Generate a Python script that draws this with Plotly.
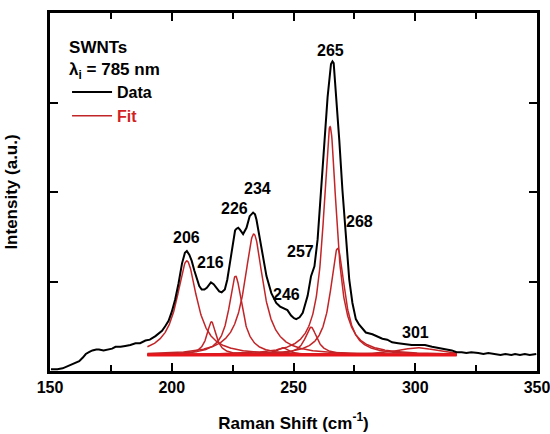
import plotly.graph_objects as go
import numpy as np

# ---- measured spectrum (Raman shift, intensity a.u.) ----
raman_x = [150.4, 153, 155.2, 157, 158.6, 160.5, 162, 163.5, 164.7, 166, 167.4, 169, 170.1, 172, 174.2,
           175.5, 176.9, 179, 180.9, 183, 185.1, 187, 189.2, 191, 193.3, 194.8, 196, 197.3, 198.7, 200,
           201.4, 202.8, 204.2, 205.4, 206.2, 207.2, 208.2, 209.3, 210.3, 211.3, 212.3, 213.4, 214.4,
           215.3, 216.1, 217.2, 218.4, 219.5, 220.5, 221.8, 222.8, 223.9, 225.2, 226.0, 226.6, 227.3,
           228, 229.3, 230.7, 232, 233.4, 234.2, 234.8, 236.1, 237.5, 238.9, 240.9, 242.9, 244.5, 246,
           247.5, 249, 250.2, 251.1, 252.5, 253.8, 255, 255.8, 257.2, 258.6, 259.9, 261.3, 262.7, 264,
           265.4, 266, 266.5, 267.4, 268.8, 270.1, 271.5, 272.9, 274.2, 275.6, 276.9, 278.3, 279.7,
           282.4, 284.5, 286.5, 288.5, 290.5, 293, 296, 298.5, 301.4, 304, 306.9, 309, 311, 313, 315,
           317, 319.1, 321, 323, 325.9, 328, 330, 332.7, 335, 337, 339.5, 341, 343, 345, 347, 349.7]
raman_y = [0.02, 0.02, 0.03, 0.05, 0.07, 0.09, 0.11, 0.15, 0.19, 0.21, 0.23, 0.24, 0.24, 0.23, 0.24,
           0.25, 0.27, 0.27, 0.28, 0.29, 0.31, 0.31, 0.34, 0.35, 0.39, 0.42, 0.45, 0.50, 0.56, 0.66,
           0.80, 0.98, 1.20, 1.32, 1.34, 1.30, 1.23, 1.12, 1.02, 0.95, 0.91, 0.91, 0.93,
           0.97, 0.99, 0.97, 0.93, 0.89, 0.88, 0.91, 1.02, 1.21, 1.47, 1.57, 1.59, 1.60,
           1.58, 1.53, 1.60, 1.73, 1.77, 1.75, 1.69, 1.50, 1.28, 1.06, 0.87, 0.76, 0.72, 0.70,
           0.68, 0.62, 0.59, 0.58, 0.60, 0.65, 0.75, 0.84, 1.06, 1.17, 1.47, 2.02, 2.58, 3.06,
           3.43, 3.46, 3.44, 3.13, 2.58, 2.02, 1.47, 1.02, 0.76, 0.58, 0.52, 0.47, 0.43,
           0.41, 0.38, 0.36, 0.35, 0.32, 0.31, 0.30, 0.29, 0.29, 0.29, 0.27, 0.26, 0.25, 0.24, 0.23,
           0.21, 0.21, 0.20, 0.21, 0.20, 0.19, 0.20, 0.19, 0.18, 0.19, 0.18, 0.19, 0.18, 0.19, 0.18, 0.19]

# ---- Lorentzian fit components ----
fit_centers = [206.2, 216.3, 226.2, 233.7, 245.6, 257.2, 265.0, 268.1, 301.0]
fit_heights = [1.05, 0.37, 0.88, 1.35, 0.08, 0.31, 2.55, 1.19, 0.08]
fit_hwhm = [5.0, 2.3, 3.3, 4.6, 3.0, 3.0, 3.3, 3.6, 10.0]
fit_baseline = 0.18
fit_range = [190, 317]

# ---- peak labels ----
label_text = ["206", "216", "226", "234", "246", "257", "265", "268", "301"]
label_x = [205.9, 216.1, 225.9, 235.1, 247.1, 252.7, 265.3, 277.3, 300.0]
label_y = [1.49, 1.21, 1.82, 2.04, 0.86, 1.33, 3.58, 1.67, 0.43]

FONT = "Liberation Sans, Arial, sans-serif"
fig = go.Figure()

xf = np.linspace(fit_range[0], fit_range[1], 800)
for i, (c, h, w) in enumerate(zip(fit_centers, fit_heights, fit_hwhm)):
    yf = fit_baseline + h * w**2 / ((xf - c)**2 + w**2)
    fig.add_trace(go.Scatter(x=xf, y=yf, mode="lines",
                             line=dict(color="#c22528", width=1.5),
                             name="<b><span style='color:#d21f24'>Fit</span></b>",
                             showlegend=(i == 0), legendrank=2))
fig.add_trace(go.Scatter(x=fit_range, y=[fit_baseline, fit_baseline], mode="lines",
                         line=dict(color="#e8161c", width=3), showlegend=False))

fig.add_trace(go.Scatter(x=raman_x, y=raman_y, mode="lines",
                         line=dict(color="black", width=2), name="<b>Data</b>", legendrank=1))

for t, x, y in zip(label_text, label_x, label_y):
    fig.add_annotation(x=x, y=y, text=f"<b>{t}</b>", showarrow=False,
                       font=dict(size=16, color="black", family=FONT))

fig.update_layout(
    width=550, height=434,
    margin=dict(l=50, r=13, t=13, b=63),
    paper_bgcolor="white", plot_bgcolor="white",
    font=dict(family=FONT, size=15, color="black"),
    showlegend=True,
    legend=dict(x=0.035, y=0.95, xanchor="left", yanchor="top",
                bgcolor="rgba(0,0,0,0)", borderwidth=0,
                font=dict(size=16, family=FONT),
                title=dict(text="<b>SWNTs</b><br><b>λ<sub>i</sub> = 785 nm</b>",
                           font=dict(size=17, family=FONT), side="top"),
                tracegroupgap=0, itemwidth=40),
    xaxis=dict(range=[150, 350], tickvals=[150, 200, 250, 300, 350],
               ticktext=["<b>150</b>", "<b>200</b>", "<b>250</b>", "<b>300</b>", "<b>350</b>"],
               ticks="inside", ticklen=8, tickwidth=2, tickcolor="black",
               minor=dict(dtick=25, tick0=150, ticks="inside", ticklen=6, tickwidth=2, tickcolor="black"),
               showline=True, linewidth=3, linecolor="black", mirror="allticks",
               showgrid=False, zeroline=False, automargin=False, ticklabeloverflow="allow",
               tickfont=dict(size=16, family=FONT),
               title=dict(text="<b>Raman Shift (cm<sup>-1</sup>)</b>", font=dict(size=17, family=FONT),
                          standoff=22)),
    yaxis=dict(range=[0, 4], tickvals=[1, 2, 3], showticklabels=False,
               ticks="inside", ticklen=8, tickwidth=2, tickcolor="black",
               showline=True, linewidth=3, linecolor="black", mirror="allticks",
               showgrid=False, zeroline=False, automargin=False,
               title=dict(text="<b>Intensity (a.u.)</b>", font=dict(size=17, family=FONT),
                          standoff=26)),
)

fig.write_html("out.html")
